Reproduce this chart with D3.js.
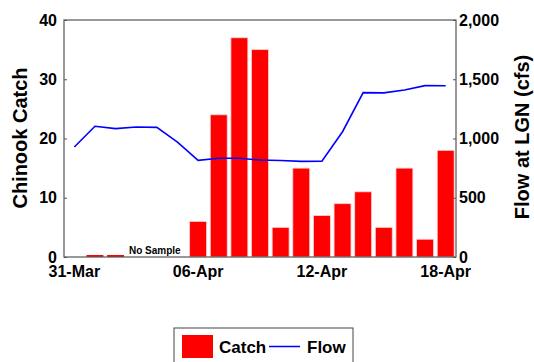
<!DOCTYPE html>
<html>
<head>
<meta charset="utf-8">
<script src="https://cdn.jsdelivr.net/npm/d3@7"></script>
<style>
	body { margin: 0; background: #fff; }
	text { font-family: "Liberation Sans", Arial, sans-serif; font-weight: bold; }
</style>
</head>
<body>
<svg id="chart" width="534" height="362"></svg>
<script>
//Data
const DAYS = ["31-Mar", "01-Apr", "02-Apr", "03-Apr", "04-Apr", "05-Apr", "06-Apr", "07-Apr", "08-Apr", "09-Apr",
	"10-Apr", "11-Apr", "12-Apr", "13-Apr", "14-Apr", "15-Apr", "16-Apr", "17-Apr", "18-Apr"];
// null = no sample
const CATCH = [null, 0, 0, null, null, null, 6, 24, 37, 35, 5, 15, 7, 9, 11, 5, 15, 3, 18];
const FLOW = [928, 1103, 1083, 1097, 1094, 970, 816, 833, 833, 818, 814, 807, 808, 1057, 1387, 1385, 1409, 1446, 1445];
const X_TICKS = ["31-Mar", "06-Apr", "12-Apr", "18-Apr"];
const CATCH_TICKS = [0, 10, 20, 30, 40];
const FLOW_TICKS = [0, 500, 1000, 1500, 2000];
const NO_SAMPLE_DAY = "04-Apr";

const svg = d3.select("#chart");
const plotLeft = 64, plotRight = 456, plotTop = 20, plotBottom = 257;

const xScale = d3.scaleBand().domain(DAYS).range([plotLeft, plotRight]).paddingInner(0.18).paddingOuter(0.09);
const yCatch = d3.scaleLinear().domain([0, 40]).range([plotBottom, plotTop]);
const yFlow = d3.scaleLinear().domain([0, 2000]).range([plotBottom, plotTop]);

// bars
const barData = DAYS.map((d, i) => ({ day: d, value: CATCH[i] })).filter(d => d.value !== null);
svg.selectAll(".bar")
	.data(barData)
	.enter().append("rect")
	.attr("class", "bar")
	.attr("x", d => xScale(d.day))
	.attr("y", d => d.value > 0 ? yCatch(d.value) : plotBottom - 2)
	.attr("width", xScale.bandwidth())
	.attr("height", d => d.value > 0 ? plotBottom - yCatch(d.value) : 2)
	.attr("fill", "#ff0000")
	.attr("stroke", d => d.value > 0 ? "#ffd0d0" : "none")
	.attr("stroke-width", 0.8);

// flow line
const line = d3.line()
	.x((d, i) => xScale(DAYS[i]) + xScale.bandwidth() / 2)
	.y(d => yFlow(d));
svg.append("path")
	.datum(FLOW)
	.attr("d", line)
	.attr("fill", "none")
	.attr("stroke", "#0000ff")
	.attr("stroke-width", 1.6);

// frame
svg.append("rect")
	.attr("x", plotLeft).attr("y", plotTop)
	.attr("width", plotRight - plotLeft).attr("height", plotBottom - plotTop)
	.attr("fill", "none")
	.attr("stroke", "#555")
	.attr("stroke-width", 1.2);

// left axis
const gLeft = svg.append("g")
	.attr("transform", "translate(" + plotLeft + ",0)")
	.call(d3.axisLeft(yCatch).tickValues(CATCH_TICKS).tickSize(-3).tickPadding(7));
gLeft.select(".domain").remove();
gLeft.selectAll("line").attr("stroke", "#555");
gLeft.selectAll("text").attr("font-size", "16px").attr("fill", "#000");

// right axis
const gRight = svg.append("g")
	.attr("transform", "translate(" + plotRight + ",0)")
	.call(d3.axisRight(yFlow).tickValues(FLOW_TICKS).tickFormat(d3.format(",")).tickSize(-3).tickPadding(3));
gRight.select(".domain").remove();
gRight.selectAll("line").attr("stroke", "#555");
gRight.selectAll("text").attr("font-size", "16px").attr("fill", "#000");

// bottom axis
const gBottom = svg.append("g")
	.attr("transform", "translate(0," + plotBottom + ")")
	.call(d3.axisBottom(xScale).tickValues(X_TICKS).tickSize(0).tickPadding(9));
gBottom.select(".domain").remove();
gBottom.selectAll("text").attr("font-size", "16px").attr("fill", "#000");

// axis titles
svg.append("text")
	.attr("transform", "translate(27,138) rotate(-90)")
	.attr("text-anchor", "middle")
	.attr("font-size", "20px")
	.text("Chinook Catch");

svg.append("text")
	.attr("transform", "translate(529,137) rotate(-90)")
	.attr("text-anchor", "middle")
	.attr("font-size", "20px")
	.text("Flow at LGN (cfs)");

// no sample label
svg.append("text")
	.attr("x", xScale(NO_SAMPLE_DAY) + xScale.bandwidth() / 2 - 2)
	.attr("y", plotBottom - 3)
	.attr("text-anchor", "middle")
	.attr("font-size", "10px")
	.text("No Sample");

// legend
const legend = svg.append("g");
legend.append("rect")
	.attr("x", 174).attr("y", 328)
	.attr("width", 179).attr("height", 40)
	.attr("fill", "#fff")
	.attr("stroke", "#444")
	.attr("stroke-width", 1);
legend.append("rect")
	.attr("x", 182).attr("y", 335)
	.attr("width", 31).attr("height", 23)
	.attr("fill", "#ff0000");
legend.append("text")
	.attr("x", 219).attr("y", 353)
	.attr("font-size", "17px")
	.text("Catch");
legend.append("line")
	.attr("x1", 269).attr("x2", 300)
	.attr("y1", 346.5).attr("y2", 346.5)
	.attr("stroke", "#0000ff")
	.attr("stroke-width", 1.5);
legend.append("text")
	.attr("x", 307).attr("y", 353)
	.attr("font-size", "17px")
	.text("Flow");
</script>
</body>
</html>
